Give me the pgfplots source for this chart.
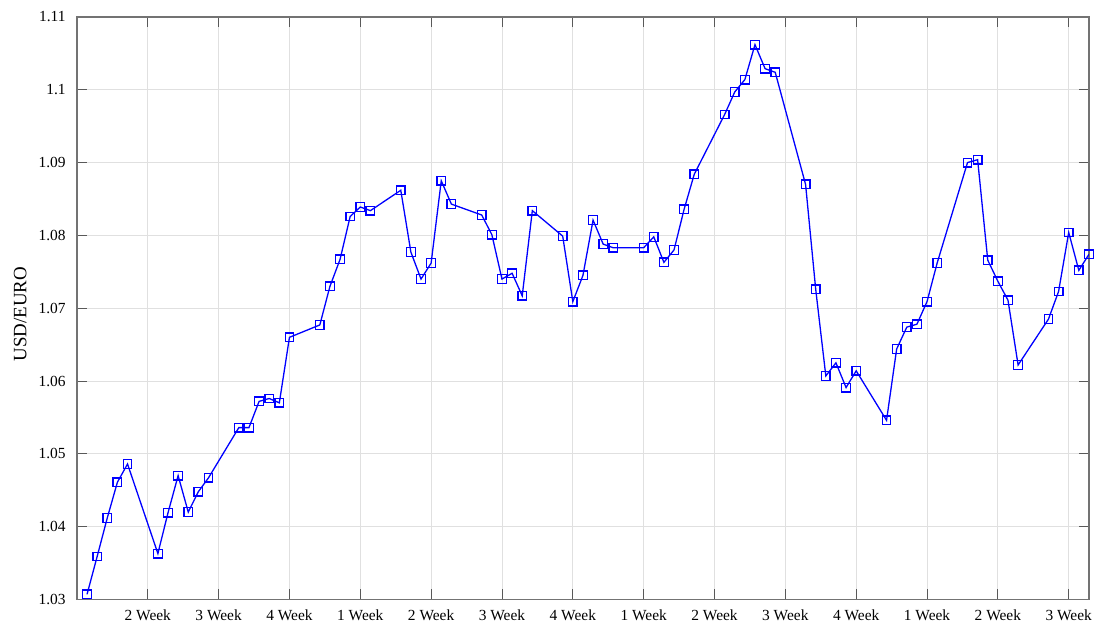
\documentclass[border=0pt]{standalone}
\usepackage{fontspec}
\setmainfont{Liberation Serif}
\usepackage{pgfplots}
\pgfplotsset{compat=1.18}

\begin{document}
\begin{tikzpicture}
  \fontsize{15.5}{18}\selectfont
  \begin{axis}[
    scale only axis,
    width=1013bp, height=583bp,
    xmin=0, xmax=100,
    ymin=1.03, ymax=1.11,
    xtick={7,14,...,98},
    xticklabels={2 Week,3 Week,4 Week,1 Week,2 Week,3 Week,4 Week,1 Week,2 Week,3 Week,4 Week,1 Week,2 Week,3 Week},
    ytick={1.03,1.04,...,1.11},
    yticklabels={1.03,1.04,1.05,1.06,1.07,1.08,1.09,1.1,1.11},
    /pgf/number format/assume math mode=true,
    tick align=inside,
    major tick length=10bp,
    tick style={black!65, line width=0.8bp},
    axis line style={black!55, line width=1.3bp},
    grid=major,
    major grid style={black!12, line width=0.8bp},
    xticklabel style={yshift=-5bp},
    yticklabel style={xshift=-6bp},
    ylabel={USD/EURO},
    every axis y label/.style={at={(axis description cs:-0.056,0.49)}, rotate=90, anchor=center, font=\fontsize{19}{22}\selectfont},
  ]
    \addplot [blue, line width=1.3bp, mark=square, mark size=4.3bp,
      mark options={blue, line width=1.3bp}] coordinates {
      (1,1.0307) (2,1.0359) (3,1.0412) (4,1.0461) (5,1.0486)
      (8,1.0363) (9,1.0419) (10,1.0470) (11,1.0420) (12,1.0448) (13,1.0467)
      (16,1.0536) (17,1.0536) (18,1.0572) (19,1.0576) (20,1.0570) (21,1.0660)
      (24,1.0677) (25,1.0730) (26,1.0767) (27,1.0826) (28,1.0839) (29,1.0834)
      (32,1.0862) (33,1.0777) (34,1.0740) (35,1.0762) (36,1.0875) (37,1.0843)
      (40,1.0828) (41,1.0801) (42,1.0740) (43,1.0748) (44,1.0717) (45,1.0834)
      (48,1.0799) (49,1.0709) (50,1.0745) (51,1.0821) (52,1.0788) (53,1.0783)
      (56,1.0783) (57,1.0798) (58,1.0763) (59,1.0780) (60,1.0836) (61,1.0884)
      (64,1.0966) (65,1.0997) (66,1.1014) (67,1.1062) (68,1.1029) (69,1.1024)
      (72,1.0870) (73,1.0726) (74,1.0607) (75,1.0625) (76,1.0591) (77,1.0614)
      (80,1.0546) (81,1.0644) (82,1.0674) (83,1.0678) (84,1.0709) (85,1.0762)
      (88,1.0900) (89,1.0904) (90,1.0766) (91,1.0737) (92,1.0711) (93,1.0622)
      (96,1.0685) (97,1.0723) (98,1.0804) (99,1.0752) (100,1.0774)
    };
  \end{axis}
  \path (-77bp,-28bp) rectangle (1020bp,600bp);
\end{tikzpicture}
\end{document}
